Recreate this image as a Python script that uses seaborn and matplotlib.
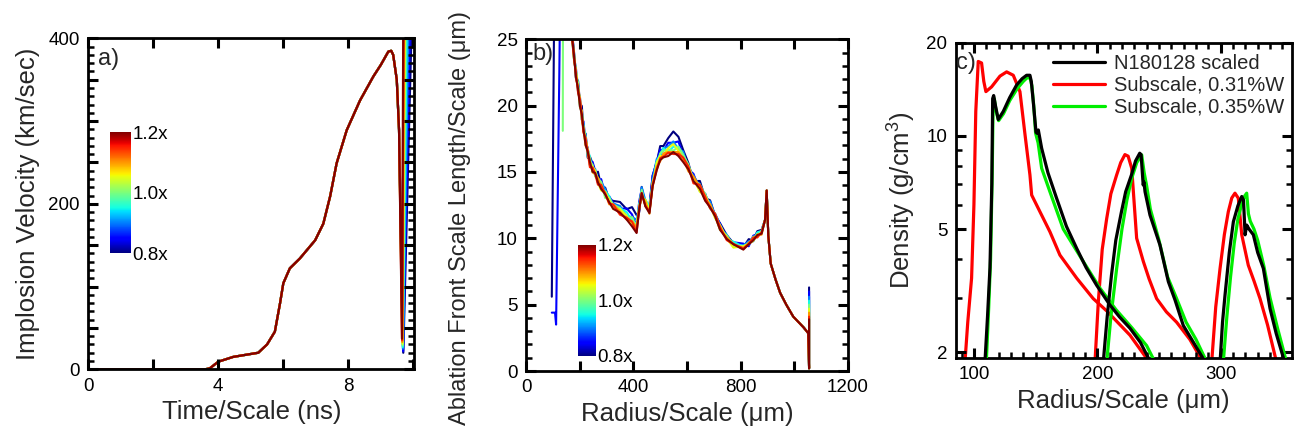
import numpy as np
import pandas as pd
import matplotlib
matplotlib.use("Agg")
import matplotlib.pyplot as plt
import matplotlib.ticker as mticker
import seaborn as sns

# ---------------- Panel a: implosion velocity ----------------
scales = [0.8, 0.85, 0.9, 0.95, 1.0, 1.05, 1.1, 1.15, 1.2]
time_a = [0, 1, 2, 3, 3.6, 3.74, 4.0, 4.46, 5.23, 5.5, 5.74, 5.9, 6.0, 6.2, 6.51,
          6.98, 7.23, 7.44, 7.64, 7.95, 8.36, 8.77, 9.0, 9.23, 9.32, 9.38, 9.49, 9.56]
vel_a = [0, 0, 0, 0, 0, 1.2, 9.2, 15, 20, 30, 45.5, 80, 104, 122, 134,
         156, 176, 209, 249, 289, 325, 354, 368, 384, 385, 380, 350, 289]
t_min_a = [9.69, 9.685, 9.68, 9.675, 9.67, 9.665, 9.66, 9.655, 9.65]
v_min_a = [20, 22, 25, 27, 29, 31, 33, 35, 37]
t_top_a = [9.95, 9.90, 9.85, 9.80, 9.76, 9.74, 9.72, 9.70, 9.69]
v_top_a = [420, 420, 420, 420, 420, 420, 420, 420, 420]

# ---------------- Panel b: ablation front scale length ----------------
radius_b = [170, 178, 186, 194, 201, 208, 214, 222, 230, 238,
            248, 258, 268, 280, 295, 310, 325, 350, 375, 395,
            412, 422, 431, 445, 460, 472, 487, 500, 512, 530,
            549, 568, 586, 605, 624, 648, 668, 686, 705, 723,
            748, 773, 810, 830, 847, 862, 878, 891, 897, 903,
            912, 930, 947, 970, 996, 1015, 1034, 1052]
length_b = [25.5, 23.8, 22.3, 21.2, 20.2, 19.2, 18.2, 17.3, 16.4, 15.7,
            15.2, 14.8, 14.3, 13.9, 13.3, 12.8, 12.4, 12.0, 11.6, 11.2,
            10.8, 12.2, 13.3, 12.6, 12.0, 14.0, 15.4, 16.0, 16.3, 16.5,
            16.6, 16.4, 16.0, 15.2, 14.4, 13.7, 13.0, 12.4, 11.6, 10.8,
            10.0, 9.5, 9.3, 9.5, 9.9, 10.2, 10.4, 11.4, 13.6, 10.2,
            8.1, 6.9, 5.9, 5.0, 4.1, 3.7, 3.3, 2.85]
spread_b = [0.3] * 10 + [0.4] * 7 + [0.8, 0.9, 1.0, 1.0] + [0.5] * 4 + \
           [0.8, 0.9, 1.0, 1.0, 1.0, 1.0, 1.0, 0.8] + [0.5, 0.4, 0.4, 0.4, 0.3, 0.3] + \
           [0.25] * 8 + [0.0] * 11
offset_b = [0.55, 0.4, 0.3, 0.2, 0.1, 0.0, -0.1, -0.15, -0.2]
jitter_b = [
    [0, 0.3, -0.4, 0.5, -0.2, 0.6, -0.3, 0.4, -0.5, 0.3, 0.2, -0.3, 0.5, -0.2, 0.3, -0.1, 0.2, 0.3, 0.1, 0.6, 0.4, -0.5, 0.3, -0.4, 0.2, 0.3, -0.2, 0.4, 0.1, 0.5, 0.9, 0.7, 0.2, 0.2, -0.3, 0.4, -0.2, 0.3, -0.1, 0.2, 0.1, 0.0, -0.1, 0.3, -0.2, 0.2, 0.1],
    [0, -0.2, 0.4, -0.3, 0.3, -0.4, 0.5, -0.2, 0.3, -0.3, 0.4, 0.1, -0.3, 0.4, -0.2, 0.2, 0.1, -0.1, 0.3, 0.2, -0.3, 0.4, 0.2, -0.3, 0.1, 0.4, 0.0, 0.3, -0.1, 0.3, 0.2, 0.5, -0.1, -0.2, 0.3, -0.3, 0.2, -0.2, 0.1, 0.2, -0.1, 0.1, 0.2, -0.2, 0.2, 0.0, -0.1],
    [0, 0.3, -0.3, 0.2, -0.4, 0.3, -0.2, 0.5, -0.3, 0.2, -0.2, 0.3, -0.1, 0.2, 0.3, -0.2, 0.1, 0.2, -0.2, 0.1, 0.3, -0.2, 0.4, 0.1, -0.2, 0.2, 0.3, -0.1, 0.2, 0.1, 0.4, 0.0, 0.3, -0.2, 0.2, 0.1, -0.2, 0.3, 0.0, -0.1, 0.2, -0.1, 0.1, 0.2, -0.2, 0.1, 0.0],
    [0, -0.3, 0.2, 0.4, -0.2, 0.1, 0.3, -0.3, 0.2, 0.4, -0.3, 0.2, 0.1, -0.2, 0.2, 0.3, -0.2, 0.1, 0.2, -0.1, 0.1, 0.3, -0.3, 0.2, 0.3, -0.1, 0.2, 0.1, 0.3, -0.2, 0.1, 0.3, 0.1, 0.2, -0.2, 0.3, 0.1, -0.2, 0.2, 0.1, -0.1, 0.2, 0.0, 0.1, -0.1, 0.2, 0.1],
    [0, 0.2, 0.3, -0.2, 0.4, -0.3, 0.2, 0.3, -0.2, 0.1, 0.3, -0.2, 0.2, 0.3, -0.3, 0.2, 0.1, 0.2, -0.2, 0.3, -0.1, 0.2, 0.3, -0.2, 0.1, 0.2, -0.2, 0.3, 0.2, 0.1, -0.1, 0.4, 0.2, 0.3, -0.1, 0.2, 0.3, -0.1, 0.1, -0.2, 0.2, -0.1, 0.1, 0.0, 0.2, -0.1, 0.1],
    [0, -0.2, 0.3, 0.2, -0.3, 0.4, -0.1, 0.2, 0.3, -0.2, 0.2, 0.3, -0.1, -0.3, 0.2, 0.1, -0.2, 0.2, 0.1, -0.2, 0.2, 0.1, -0.2, 0.3, 0.1, -0.1, 0.3, 0.2, -0.1, 0.3, 0.5, 0.2, -0.1, 0.2, 0.1, -0.2, 0.2, 0.1, -0.1, 0.2, 0.0, -0.2, 0.1, 0.1, -0.1, 0.1, 0.0],
    [0, 0.3, -0.2, 0.2, 0.3, -0.2, 0.1, -0.3, 0.3, 0.2, -0.2, 0.1, 0.3, -0.1, 0.2, -0.2, 0.2, 0.1, -0.1, 0.2, 0.1, 0.2, -0.1, 0.2, -0.1, 0.2, 0.1, -0.1, 0.2, 0.1, 0.0, 0.2, 0.1, -0.1, 0.3, 0.2, -0.1, 0.2, 0.1, -0.1, 0.1, 0.1, -0.1, 0.2, 0.0, 0.1, -0.1],
    [0, -0.1, 0.2, -0.2, 0.3, 0.1, -0.2, 0.3, 0.1, -0.3, 0.2, 0.1, -0.2, 0.2, 0.1, -0.1, 0.2, -0.1, 0.1, 0.2, -0.2, 0.1, 0.2, -0.1, 0.1, 0.1, -0.1, 0.2, 0.0, 0.1, -0.1, 0.1, 0.2, 0.3, -0.2, 0.4, 0.2, -0.1, 0.3, 0.1, -0.1, 0.1, 0.0, 0.1, 0.2, -0.1, 0.1],
    [0, 0.2, -0.1, 0.1, -0.2, 0.2, 0.1, -0.2, 0.2, 0.1, -0.1, 0.2, 0.0, -0.1, 0.1, 0.0, -0.1, 0.1, 0.0, -0.1, -0.2, 0.1, 0.2, -0.1, 0.0, 0.1, -0.1, 0.1, 0.0, -0.1, 0.1, 0.0, -0.1, 0.1, 0.0, 0.1, -0.1, 0.0, 0.1, -0.1, 0.0, 0.1, -0.1, 0.1, 0.0, 0.1, 0.0],
]
start_radius_b = [1055, 1055]
start_top_b = [6.3, 6.0, 5.6, 5.3, 5.0, 4.7, 4.4, 4.1, 3.9]
start_low_b = 0.2
inner_r_b = {0.8: [96, 106], 0.85: [96, 108, 112, 124, 128], 1.0: [137, 138]}
inner_l_b = {0.8: [5.6, 30], 0.85: [4.4, 4.4, 3.5, 22.4, 30], 1.0: [18.1, 30]}

# ---------------- Panel c: density profiles ----------------
c_series = ["N180128 scaled", "Subscale, 0.31%W", "Subscale, 0.35%W"]
c_colors = ["#000000", "#ff0000", "#00ee00"]
black_r = [
    [108.9, 111, 113, 114.5, 115.2, 116, 117.5, 119.7, 123.8, 129, 134.6, 139, 142.7, 145.4, 146.5,
     148.1, 150.3, 151, 152.2, 154.9, 160, 167, 175, 183.3, 191, 199.5, 210, 218, 226.5, 235, 243.3],
    [204.8, 208, 211.5, 215, 219.6, 223, 227.7, 231, 234.4, 235.5, 237.2, 237.8, 238.7, 242.7,
     250.8, 257.6, 263, 269.7, 278, 287.8],
    [299.5, 301.5, 303.5, 307, 310.3, 314, 317.1, 318.5, 319.8, 321.1, 323, 326.5, 330, 334.6,
     340, 345, 352]]
black_rho = [
    [1.85, 2.6, 3.75, 7.0, 13.2, 13.5, 12.5, 11.3, 12.0, 13.3, 14.6, 15.3, 15.7, 15.7, 15.0,
     12.9, 10.3, 10.2, 10.45, 9.12, 7.6, 6.29, 5.1, 4.33, 3.75, 3.29, 2.85, 2.6, 2.39, 2.15, 1.85],
    [1.85, 2.6, 3.55, 4.6, 5.69, 6.6, 7.48, 8.3, 8.79, 8.7, 6.94, 7.1, 6.6, 5.55,
     4.44, 3.38, 2.95, 2.44, 2.15, 1.85],
    [1.85, 2.5, 3.05, 4.2, 5.28, 5.95, 6.37, 6.2, 4.79, 5.15, 5.0, 4.79, 4.2, 3.73,
     2.77, 2.3, 1.85]]
red_r = [
    [92.7, 95, 98.1, 100, 101.5, 103.5, 106.2, 108, 109.7, 114.3, 121.1, 126.5, 131.9, 137.3, 141.4,
     145.4, 146.8, 153.5, 161.6, 169.7, 183.3, 196.7, 207.6, 226.5, 242.5],
    [198.1, 200.8, 204, 207.6, 211, 215.7, 219, 222.4, 225, 227.9, 231.9, 237.3, 242, 248.1,
     256, 264.3, 275, 286],
    [292.7, 296, 299.5, 303, 306.2, 309, 311.6, 314.3, 317.1, 322.4, 327, 331.9, 338, 345.4]]
red_rho = [
    [1.85, 2.5, 3.47, 6.0, 12.0, 17.4, 17.2, 15.0, 13.9, 14.4, 15.6, 16.1, 15.7, 13.9, 10.1,
     7.48, 6.44, 5.69, 4.9, 4.12, 3.47, 2.98, 2.72, 2.27, 1.85],
    [1.85, 2.9, 4.3, 5.4, 6.5, 7.48, 8.2, 8.7, 8.6, 7.86, 4.67, 3.93, 3.45, 2.98,
     2.7, 2.5, 2.2, 1.85],
    [1.85, 2.8, 3.73, 4.8, 5.69, 6.3, 6.53, 6.29, 4.79, 3.82, 3.4, 2.98, 2.45, 1.85]]
green_r = [
    [110, 112, 113.5, 114.8, 115.6, 116.5, 118, 120, 124, 129, 135, 140, 143, 145.5, 147,
     148.5, 150, 152, 154.9, 161.6, 172.4, 188.6, 202.2, 215, 228, 240, 247],
    [207.6, 211, 215.7, 220, 224, 227.9, 232, 236, 238, 240, 243, 250, 257, 264, 272, 280, 289],
    [302.1, 305, 308, 311, 314, 317, 319.5, 321.1, 322.5, 324, 327, 330, 335, 340, 346, 353.5]]
green_rho = [
    [1.85, 2.8, 4.0, 7.5, 13.0, 13.2, 12.0, 11.2, 11.8, 13.0, 14.2, 15.0, 15.4, 15.4, 14.5,
     12.5, 10.2, 9.5, 7.86, 6.6, 5.0, 3.93, 3.22, 2.75, 2.4, 2.1, 1.85],
    [1.85, 2.6, 3.73, 5.0, 6.2, 7.3, 8.2, 8.68, 7.6, 6.9, 5.8, 4.6, 3.5, 3.0, 2.5, 2.2, 1.85],
    [1.85, 2.6, 3.5, 4.5, 5.4, 6.0, 6.4, 6.53, 5.6, 5.3, 5.0, 4.6, 3.8, 3.0, 2.4, 1.85]]

# ---------------- build tables ----------------
rows_a = []
for i, s in enumerate(scales):
    t = time_a + [t_min_a[i], t_top_a[i]]
    v = vel_a + [v_min_a[i], v_top_a[i]]
    for k, (tt, vv) in enumerate(zip(t, v)):
        rows_a.append(dict(scale=s, order=k, t=tt, v=vv))
df_a = pd.DataFrame(rows_a)

rows_b = []
for i, s in enumerate(scales):
    jit = list(jitter_b[i]) + [0.0] * (len(radius_b) - len(jitter_b[i]))
    main_l = [b + sp * offset_b[i] + j for b, sp, j in zip(length_b, spread_b, jit)]
    r = list(inner_r_b.get(s, [])) + radius_b + start_radius_b
    l = list(inner_l_b.get(s, [])) + main_l + [start_low_b, start_top_b[i]]
    for k, (rr, ll) in enumerate(zip(r, l)):
        rows_b.append(dict(scale=s, order=k, r=rr, L=ll))
df_b = pd.DataFrame(rows_b)

rows_c = []
for name, rs, rhos in zip(c_series, [black_r, red_r, green_r], [black_rho, red_rho, green_rho]):
    for seg, (rr, dd) in enumerate(zip(rs, rhos)):
        for k, (x, y) in enumerate(zip(rr, dd)):
            rows_c.append(dict(series=name, seg=f"{name}-{seg}", r=x, rho=y))
df_c = pd.DataFrame(rows_c)

# ---------------- style ----------------
sns.set_style("ticks")
plt.rcParams.update({
    "font.family": ["Liberation Sans", "DejaVu Sans"],
    "mathtext.fontset": "custom",
    "mathtext.rm": "Liberation Sans",
    "mathtext.it": "Liberation Sans:italic",
    "axes.linewidth": 2.0,
    "axes.edgecolor": "black",
    "axes.axisbelow": False,
    "xtick.direction": "in", "ytick.direction": "in",
    "xtick.top": True, "ytick.right": True,
    "xtick.bottom": True, "ytick.left": True,
    "xtick.major.size": 7, "ytick.major.size": 7,
    "xtick.major.width": 2.2, "ytick.major.width": 2.2,
    "xtick.minor.size": 4, "ytick.minor.size": 4,
    "xtick.minor.width": 1.8, "ytick.minor.width": 1.8,
    "xtick.color": "black", "ytick.color": "black",
    "xtick.major.pad": 6, "ytick.major.pad": 6,
})

JET = matplotlib.colormaps["jet"]
TICK = 13.5
LAB = 18.5
PANEL = 17

fig = plt.figure(figsize=(12.96, 4.36), dpi=100)
fig.patch.set_facecolor("white")


def style_axis(ax):
    ax.tick_params(which="both", direction="in", top=True, right=True,
                   bottom=True, left=True, labelsize=TICK, colors="black")
    ax.tick_params(which="major", length=7, width=2.2, pad=6)
    ax.tick_params(which="minor", length=4, width=1.8)
    for sp in ax.spines.values():
        sp.set_linewidth(2.0)
        sp.set_color("black")


def add_cbar(rect):
    cax = fig.add_axes(rect)
    sm = matplotlib.cm.ScalarMappable(cmap=JET, norm=matplotlib.colors.Normalize(0.8, 1.2))
    cb = fig.colorbar(sm, cax=cax, ticks=[0.8, 1.0, 1.2])
    cb.ax.set_yticklabels(["0.8x", "1.0x", "1.2x"])
    cb.outline.set_visible(False)
    cb.ax.tick_params(which="both", length=0, labelsize=TICK, pad=1, left=False, top=False)
    return cb

# ---- panel a ----
ax_a = fig.add_axes([0.0681, 0.153, 0.2516, 0.759])
sns.lineplot(data=df_a, x="t", y="v", hue="scale", palette=JET, hue_norm=(0.8, 1.2),
             units="scale", estimator=None, sort=False, legend=False, lw=1.6, ax=ax_a)
ax_a.set_xlim(0, 10.03)
ax_a.set_ylim(0, 400)
ax_a.set_xticks([0, 2, 4, 6, 8, 10])
ax_a.set_xticklabels(["0", "", "4", "", "8", ""])
yt = list(range(0, 401, 50))
ax_a.set_yticks(yt)
ax_a.set_yticklabels([str(v) if v in (0, 200, 400) else "" for v in yt])
ax_a.yaxis.set_minor_locator(mticker.MultipleLocator(10))
style_axis(ax_a)
ax_a.set_xlabel("Time/Scale (ns)", fontsize=LAB, labelpad=4)
ax_a.set_ylabel("Implosion Velocity (km/sec)", fontsize=LAB, labelpad=6)
ax_a.text(0.03, 0.937, "a)", transform=ax_a.transAxes, fontsize=PANEL, va="center", ha="left")
add_cbar([0.0849, 0.4197, 0.0162, 0.2775])

# ---- panel b ----
ax_b = fig.add_axes([0.4059, 0.149, 0.2484, 0.761])
sns.lineplot(data=df_b, x="r", y="L", hue="scale", palette=JET, hue_norm=(0.8, 1.2),
             units="scale", estimator=None, sort=False, legend=False, lw=1.5, ax=ax_b)
ax_b.set_xlim(0, 1200)
ax_b.set_ylim(0, 25)
xt = list(range(0, 1201, 200))
ax_b.set_xticks(xt)
ax_b.set_xticklabels([str(v) if v % 400 == 0 else "" for v in xt])
ax_b.set_yticks([0, 5, 10, 15, 20, 25])
ax_b.yaxis.set_minor_locator(mticker.MultipleLocator(1))
style_axis(ax_b)
ax_b.set_xlabel("Radius/Scale (μm)", fontsize=LAB, labelpad=4)
ax_b.set_ylabel("Ablation Front Scale Length/Scale (μm)", fontsize=17)
ax_b.yaxis.set_label_coords(-0.17, 0.46)
ax_b.text(0.019, 0.956, "b)", transform=ax_b.transAxes, fontsize=PANEL, va="center", ha="left")
add_cbar([0.446, 0.1835, 0.0139, 0.2546])

# ---- panel c ----
ax_c = fig.add_axes([0.7374, 0.1796, 0.2593, 0.7224])
pal = dict(zip(c_series, c_colors))
for name, z in zip(["Subscale, 0.31%W", "Subscale, 0.35%W", "N180128 scaled"], [2, 3, 4]):
    sns.lineplot(data=df_c[df_c.series == name], x="r", y="rho", hue="series", palette=pal,
                 units="seg", estimator=None, sort=False, legend=False, lw=2.3, ax=ax_c,
                 zorder=z)
ax_c.set_yscale("log")
ax_c.set_xlim(85.2, 357.6)
ax_c.set_ylim(1.92, 20)
ax_c.set_xticks([100, 200, 300])
ax_c.xaxis.set_minor_locator(mticker.MultipleLocator(10))
ax_c.xaxis.set_minor_formatter(mticker.NullFormatter())
ax_c.yaxis.set_major_locator(mticker.FixedLocator([2, 5, 10, 20]))
ax_c.yaxis.set_major_formatter(mticker.FixedFormatter(["2", "5", "10", "20"]))
ax_c.yaxis.set_minor_locator(mticker.FixedLocator([3, 4, 6, 7, 8, 9]))
ax_c.yaxis.set_minor_formatter(mticker.NullFormatter())
style_axis(ax_c)
ax_c.set_xlabel("Radius/Scale (μm)", fontsize=LAB, labelpad=4)
ax_c.set_ylabel("Density (g/cm$^3$)", fontsize=LAB, labelpad=6)
ax_c.text(0.0, 0.937, "c)", transform=ax_c.transAxes, fontsize=PANEL, va="center", ha="left")
handles = [matplotlib.lines.Line2D([], [], color=c, lw=2.3) for c in c_colors]
ax_c.legend(handles, c_series, loc="upper left", bbox_to_anchor=(0.265, 0.99), frameon=False,
            fontsize=14.5, handlelength=2.6, handletextpad=0.45, labelspacing=0.15,
            borderaxespad=0.0, borderpad=0.4)

fig.savefig("out.png", dpi=100, facecolor="white")
